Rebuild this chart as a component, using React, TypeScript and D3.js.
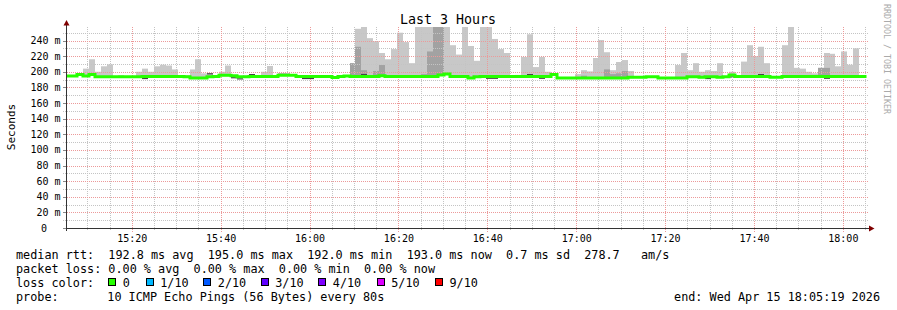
import React from 'react';
import * as d3 from 'd3';

// ---------- data ----------
const START = new Date(2026, 3, 15, 15, 5, 19);
const END = new Date(2026, 3, 15, 18, 5, 19);
const FIRST_STEP = new Date(2026, 3, 15, 15, 5, 0);
const STEP_MS = 80000;

// median rtt per 80s step (ms)
const medianMs: number[] = [
  194.5, 194.5, 196.5, 194.5, 196.5, 193.6, 193.6, 193.6, 193.6, 193.6, 193.6, 193.6, 193.6,
  194, 194, 194, 194, 194, 194, 194, 193.5, 192, 192, 192, 193.5, 194,
  195.5, 195.5, 195, 193.5, 193.5, 194, 194, 194, 194, 194, 195.5, 195.5, 195.5,
  194, 194, 194, 194, 194, 194, 192.5, 194, 194.5, 194, 194, 194, 194,
  194, 195, 194, 194, 194, 194, 194, 194, 194, 194, 194, 196, 197,
  194, 194, 194, 192, 193.5, 194, 194, 194, 194, 194, 194, 194, 194,
  194, 194, 194, 194, 196.5, 192, 192, 192, 192, 192, 192, 192, 192,
  192, 192, 192, 192, 193, 193, 193, 193.5, 193.5, 192, 192, 192, 192,
  192, 193.5, 193.5, 193, 193.5, 193.5, 193, 193.5, 196, 194, 194, 194, 194,
  194, 194, 193, 193, 194, 194, 194, 194, 194, 194, 194, 194, 194,
  194, 194, 194, 194, 194, 194,
];

// outer smoke top (max ping) per step (ms), null = no visible smoke
const maxMs: (number | null)[] = [
  null, null, null, 204, 216, 200, 207, 209.5, null, 195.5, null, null, 200,
  204, 200, 207, 209, 208, 203, null, 195.5, 203, 216, 198, 198, null,
  200, 208, 196, null, 195, null, null, 200, 207.4, null, null, null, null,
  null, null, null, null, 195, null, null, null, null, 211, 255, 265, 243,
  239, 224, 216, 229, 250, 238, 211, 265, 265, 265, 265, 265, 265,
  234, 222, 265, 233, 214, 265, 265, 242, 229, 224, null, 196, 219,
  248, 206, 219, 200, null, null, null, null, 197, 202, 200.5, 217.6, 240.6,
  225, 202, 212.5, 215, 201, null, null, null, null, null, null, null, 208.6,
  224, 202, 211, 200, 202, 201, 211, null, 200, null, 213, 234, 220,
  232, 211, null, null, 234, 265, 205, 204, 200, 198, 205, 224, 223,
  207, 226, 209, 230, null, null,
];

// inner (darker) smoke top: [step index, ms]
const innerSmoke: [number, number][] = [
  [48, 211], [49, 232], [50, 202], [52, 201], [53, 208.6], [60, 197], [61, 226],
  [62, 265], [63, 265], [87, 195], [91, 203], [92, 197], [93, 198], [94, 201],
  [127, 205], [128, 205],
];

// darkest smoke band near the median: [step index, ms]
const coreSmoke: [number, number][] = [
  [13, 191.5], [24, 197.5], [28, 192.5], [29, 191], [31, 196.5], [36, 197], [37, 197],
  [40, 191.5], [41, 191.5], [50, 196.5], [71, 191.8], [72, 191.8], [78, 196.5],
  [80, 191.8], [108, 191.5], [112, 193.5], [117, 196.5], [128, 191.8],
];

const yTickValues = [0, 20, 40, 60, 80, 100, 120, 140, 160, 180, 200, 220, 240];
const yMinorValues = [10, 30, 50, 70, 90, 110, 130, 150, 170, 190, 210, 230, 250];

const lossLabels = ['0', '1/10', '2/10', '3/10', '4/10', '5/10', '9/10'];
const lossColors = ['#26ff00', '#00b8ff', '#0059ff', '#5e00ff', '#7e00ff', '#dd00ff', '#ff0000'];

const legendRtt = 'median rtt:  192.8 ms avg  195.0 ms max  192.0 ms min  193.0 ms now  0.7 ms sd  278.7   am/s';
const legendLoss = 'packet loss: 0.00 % avg  0.00 % max  0.00 % min  0.00 % now';
const probeText = '10 ICMP Echo Pings (56 Bytes) every 80s';
const endText = 'end: Wed Apr 15 18:05:19 2026';
const titleText = 'Last 3 Hours';

// ---------- component ----------
const MONO = '"DejaVu Sans Mono", "Liberation Mono", monospace';

export default function App() {
  const W = 897, H = 310;
  const left = 66.5, right = 866.5, top = 27, bottom = 228;
  const x = d3.scaleTime().domain([START, END]).range([left, right]);
  const y = d3.scaleLinear().domain([0, 257.3]).range([bottom, top]);
  const tAt = (i: number) => new Date(FIRST_STEP.getTime() + i * STEP_MS);
  const px = (i: number) => Math.round(x(tAt(i)));

  const majorX = d3.timeMinute.every(20)!.range(START, END);
  const minorX = d3.timeMinute.every(5)!.range(START, END).filter(d => d.getMinutes() % 20 !== 0);
  const fmt = d3.timeFormat('%H:%M');

  const minorGrid = '#c4c4c4';
  const majorGrid = '#ec9a9a';

  const lineData = medianMs.map((v, i) => ({ t: tAt(i), v }));
  lineData.push({ t: tAt(medianMs.length), v: medianMs[medianMs.length - 1] });
  const medianPath = d3.line<{ t: Date; v: number }>()
    .x(d => Math.round(x(d.t)))
    .y(d => y(d.v))
    .curve(d3.curveStepAfter)(lineData) || '';

  const squareX = [108.3, 145.7, 203.3, 260.7, 318.3, 376.7, 435];

  return (
    <svg width={W} height={H} style={{ position: 'absolute', left: 0, top: 0, background: '#fff' }}
      fontFamily={MONO}>
      <defs>
        <clipPath id="plot">
          <rect x={67} y={top} width={right - 67} height={bottom - top} />
        </clipPath>
      </defs>
      <rect x={0} y={0} width={W} height={H} fill="#fff" />

      {/* smoke */}
      <g clipPath="url(#plot)">
        {maxMs.map((m, i) => m == null ? null : (
          <rect key={'s' + i} x={px(i)} width={px(i + 1) - px(i)} y={y(m)}
            height={Math.max(0, y(medianMs[i]) - y(m) + 1)} fill="#c8c8c8" />
        ))}
        {innerSmoke.map(([i, m]) => (
          <rect key={'i' + i} x={px(i)} width={px(i + 1) - px(i)} y={y(m)}
            height={Math.max(0, y(medianMs[i]) - y(m) + 1)} fill="#a2a2a2" />
        ))}
        {coreSmoke.map(([i, m]) => (
          <rect key={'c' + i} x={px(i)} width={px(i + 1) - px(i)} y={y(m) - 0.5}
            height={1.2} fill="#444" />
        ))}
      </g>

      {/* grid */}
      <g shapeRendering="crispEdges" strokeDasharray="1,1" strokeWidth={1}>
        {yMinorValues.map(v => (
          <line key={'ym' + v} x1={63} x2={869} y1={Math.round(y(v)) + 0.5} y2={Math.round(y(v)) + 0.5} stroke={minorGrid} />
        ))}
        {minorX.map(d => (
          <line key={'xm' + d.getTime()} x1={Math.round(x(d)) + 0.5} x2={Math.round(x(d)) + 0.5} y1={top} y2={231} stroke={minorGrid} />
        ))}
        {yTickValues.filter(v => v > 0).map(v => (
          <line key={'yM' + v} x1={63} x2={869} y1={Math.round(y(v)) + 0.5} y2={Math.round(y(v)) + 0.5} stroke={majorGrid} />
        ))}
        {majorX.map(d => (
          <line key={'xM' + d.getTime()} x1={Math.round(x(d)) + 0.5} x2={Math.round(x(d)) + 0.5} y1={top} y2={232} stroke={majorGrid} />
        ))}
      </g>

      {/* median line */}
      <g clipPath="url(#plot)">
        <path d={medianPath} fill="none" stroke="#26ff00" strokeWidth={3} />
      </g>

      {/* axes */}
      <g shapeRendering="crispEdges">
        <line x1={66.5} x2={66.5} y1={24} y2={231} stroke="#333" />
        <line x1={63} x2={870} y1={228.5} y2={228.5} stroke="#333" />
        {yTickValues.map(v => (
          <line key={'yt' + v} x1={63} x2={66} y1={Math.round(y(v)) + 0.5} y2={Math.round(y(v)) + 0.5} stroke="#888" />
        ))}
      </g>
      <path d="M63.5,25.5 L69.5,25.5 L66.5,20 Z" fill="#7f0000" />
      <path d="M869,225.5 L869,231.5 L874.5,228.5 Z" fill="#7f0000" />

      {/* y labels */}
      <g fontSize={10} fill="#000">
        {yTickValues.map(v => (
          <text key={'yl' + v} x={v === 0 ? 47 : 60.5} y={y(v) + 3.5} textAnchor="end">
            {v === 0 ? '0' : `${v} m`}
          </text>
        ))}
        {majorX.map(d => (
          <text key={'xl' + d.getTime()} x={x(d) + 0.5} y={241.5} textAnchor="middle">{fmt(d)}</text>
        ))}
      </g>

      <text x={448} y={24} textAnchor="middle" fontSize={13.3}>{titleText}</text>
      <text transform="translate(15,127) rotate(-90)" textAnchor="middle" fontSize={11}>Seconds</text>
      <text transform="translate(884,4) rotate(90)" fontSize={8.3} fill="#aaa">RRDTOOL / TOBI OETIKER</text>

      {/* legend */}
      <g fontSize={11.8} fill="#000" style={{ whiteSpace: 'pre' }}>
        <text x={16} y={258.5} xmlSpace="preserve">{legendRtt}</text>
        <text x={16} y={272.5} xmlSpace="preserve">{legendLoss}</text>
        <text x={16} y={286.5}>loss color:</text>
        {lossLabels.map((l, j) => (
          <g key={'lc' + j}>
            <rect x={Math.round(squareX[j]) + 0.5} y={278.5} width={7} height={7} fill={lossColors[j]} stroke="#000" strokeWidth={1} />
            <text x={squareX[j] + 14.5} y={286.5}>{l}</text>
          </g>
        ))}
        <text x={16} y={300.5}>probe:</text>
        <text x={107.3} y={300.5}>{probeText}</text>
        <text x={880} y={300.5} textAnchor="end">{endText}</text>
      </g>
    </svg>
  );
}
